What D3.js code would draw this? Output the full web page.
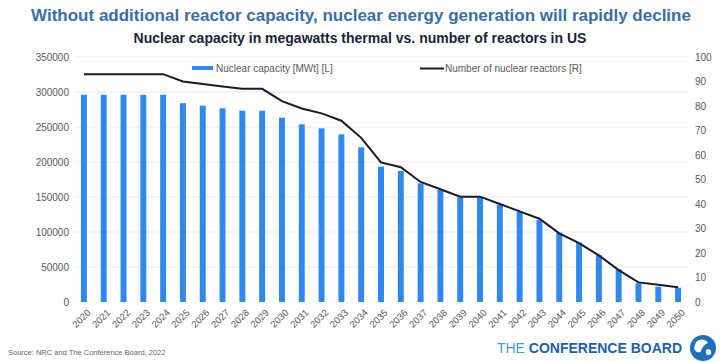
<!DOCTYPE html>
<html>
  <head>
    <meta http-equiv="Content-Type" content="text/html;charset=utf-8"/>
    <title>Nuclear capacity</title>
    <script src="https://d3js.org/d3.v7.min.js"></script>
  </head>
  <body style="margin:0;background:#fff">
    <div id="content"></div>
    <script type="text/javascript">

        const years = d3.range(2020, 2051).map(String)
        const capacity = [296000, 296000, 296000, 296000, 296000, 284000, 280500, 276700, 273300, 273300,
                          263300, 253800, 248100, 239500, 221000, 193300, 187100, 169500, 160000, 149500,
                          149500, 138600, 129000, 117100, 99000, 84800, 67100, 46700, 26700, 21900, 20400]
        const reactors = [93, 93, 93, 93, 93, 90, 89, 88, 87, 87,
                          82, 79, 77, 74, 67, 57, 55, 49, 46, 43,
                          43, 40, 37, 34, 28, 24, 19, 13, 8, 7, 6]
        const leftTicks = [0, 50000, 100000, 150000, 200000, 250000, 300000, 350000]
        const rightTicks = [0, 10, 20, 30, 40, 50, 60, 70, 80, 90, 100]

        const width = 720,
            height = 362
        const font = 'Arial, "Liberation Sans", sans-serif'

        const svg = d3.select("#content").append("svg")
            .attr("width", width)
            .attr("height", height)
            .style("font-family", font)

        const x = d3.scaleBand().domain(years).range([74, 688]).paddingInner(0.7).paddingOuter(0.35)
        const yL = d3.scaleLinear().domain([0, 350000]).range([302, 57])
        const yR = d3.scaleLinear().domain([0, 100]).range([302, 57])

        // gridlines
        svg.append("g")
            .selectAll("line")
            .data(leftTicks.slice(1))
            .enter()
            .append("line")
            .attr("x1", 74).attr("x2", 688)
            .attr("y1", d => yL(d)).attr("y2", d => yL(d))
            .attr("stroke", "#ebebeb")

        // left axis
        const gl = svg.append("g")
            .attr("transform", "translate(69,0)")
            .call(d3.axisLeft(yL).tickValues(leftTicks).tickSize(0).tickPadding(0).tickFormat(d3.format("d")))
        gl.select(".domain").remove()
        gl.selectAll("text").attr("fill", "#595959").style("font-size", "10px").style("font-family", font)

        // right axis
        const gr = svg.append("g")
            .attr("transform", "translate(695,0)")
            .call(d3.axisRight(yR).tickValues(rightTicks).tickSize(0).tickPadding(0))
        gr.select(".domain").remove()
        gr.selectAll("text").attr("fill", "#595959").style("font-size", "10px").style("font-family", font)

        // bars
        svg.append("g")
            .selectAll("rect")
            .data(capacity)
            .enter()
            .append("rect")
            .attr("x", (d, i) => x(years[i]))
            .attr("width", x.bandwidth())
            .attr("y", d => yL(d))
            .attr("height", d => yL(0) - yL(d))
            .attr("fill", "#2f87f2")

        // line
        const line = d3.line()
            .x((d, i) => x(years[i]) + x.bandwidth() / 2)
            .y(d => yR(d))
        svg.append("path")
            .datum(reactors)
            .attr("d", line)
            .attr("fill", "none")
            .attr("stroke", "#141b2d")
            .attr("stroke-width", 2)

        // x labels
        const gx = svg.append("g")
            .attr("transform", "translate(0,307)")
            .call(d3.axisBottom(x).tickSize(0).tickPadding(0))
        gx.select(".domain").remove()
        gx.selectAll("text")
            .attr("fill", "#595959")
            .style("font-size", "9.5px")
            .style("font-family", font)
            .attr("text-anchor", "end")
            .attr("dy", "0.35em")
            .attr("transform", "translate(5,4) rotate(-45)")

        // legend
        const legend = svg.append("g").style("font-size", "10px").attr("fill", "#595959")
        legend.append("rect").attr("x", 192).attr("y", 66).attr("width", 21).attr("height", 4).attr("fill", "#2f87f2")
        legend.append("text").attr("x", 216).attr("y", 72).text("Nuclear capacity [MWt] [L]")
        legend.append("line").attr("x1", 420).attr("x2", 444).attr("y1", 68.5).attr("y2", 68.5)
            .attr("stroke", "#141b2d").attr("stroke-width", 2)
        legend.append("text").attr("x", 445).attr("y", 72).text("Number of nuclear reactors [R]")

        // titles
        svg.append("text")
            .attr("x", 361).attr("y", 21)
            .attr("text-anchor", "middle")
            .attr("fill", "#3a6ea5")
            .style("font-size", "17px").style("font-weight", "bold")
            .text("Without additional reactor capacity, nuclear energy generation will rapidly decline")
        svg.append("text")
            .attr("x", 360).attr("y", 43)
            .attr("text-anchor", "middle")
            .attr("fill", "#17223b")
            .style("font-size", "14px").style("font-weight", "bold")
            .text("Nuclear capacity in megawatts thermal vs. number of reactors in US")

        // source
        svg.append("text")
            .attr("x", 8).attr("y", 355)
            .attr("fill", "#666")
            .style("font-size", "7.5px")
            .text("Source: NRC and The Conference Board, 2022")

        // logo
        const logo = svg.append("text")
            .attr("x", 682).attr("y", 353)
            .attr("text-anchor", "end")
            .style("font-size", "14px")
        logo.append("tspan").attr("fill", "#4b97dc").text("THE ")
        logo.append("tspan").attr("fill", "#1f5fb0").style("font-weight", "bold").text("CONFERENCE BOARD")

        const globe = svg.append("g").attr("transform", "translate(703,348)")
        globe.append("circle").attr("r", 13).attr("fill", "#1f6fc0")
        globe.append("path")
            .attr("d", "M-7,-6 C-3,-10 3,-9 5,-5 C2,-4 -1,-1 -2,3 C-4,6 -8,4 -9,0 Z")
            .attr("fill", "#fff")
        globe.append("path")
            .attr("d", "M3,2 C6,0 9,2 8,6 C5,8 2,7 3,2 Z")
            .attr("fill", "#fff")

    </script>
  </body>
</html>
